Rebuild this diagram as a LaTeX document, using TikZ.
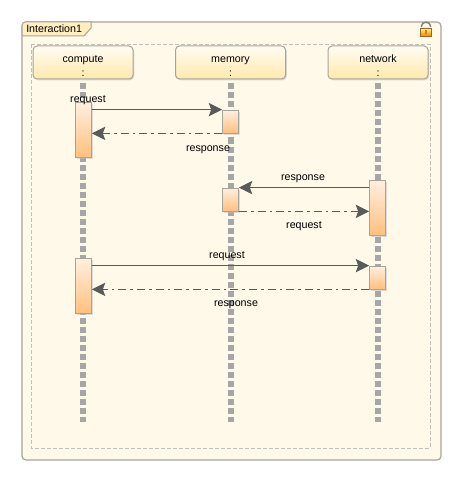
\documentclass[tikz,border=0pt]{standalone}
\usepackage{fontspec}
\setmainfont{Liberation Sans}
\usetikzlibrary{arrows.meta,shadows}
\definecolor{paneFill}{HTML}{FFF9EA}
\definecolor{paneLine}{HTML}{A8A498}
\definecolor{headTop}{HTML}{FFFCF2}
\definecolor{headBot}{HTML}{FFE9AC}
\definecolor{barTop}{HTML}{FFEFE0}
\definecolor{barBot}{HTML}{FFC07E}
\definecolor{lifeGray}{HTML}{A6A6A6}
\definecolor{msgGray}{HTML}{5A5A5A}
\tikzset{
	headbox/.style={draw=paneLine,line width=.75pt,rounded corners=3pt,minimum height=24.75pt,inner sep=0pt,top color=headTop,bottom color=headBot,align=center,drop shadow={shadow xshift=1pt,shadow yshift=-1pt,fill=black!25,opacity=.5}},
	barbox/.style={draw=paneLine,line width=.6pt,minimum width=12pt,inner sep=0pt,top color=barTop,bottom color=barBot,drop shadow={shadow xshift=1.2pt,shadow yshift=-1.2pt,fill=black!25,opacity=.5}},
	lifeline/.style={draw=lifeGray,line width=4.5pt,dash pattern=on 4.5pt off 2.25pt,shorten <=3pt},
	callmsg/.style={draw=msgGray,line width=.8pt,-{Stealth[length=10pt,width=10pt,inset=1.8pt]}},
	backmsg/.style={callmsg,dash pattern=on 6pt off 3pt on 2pt off 3pt},
	msglabel/.style={inner sep=0pt}
}
\begin{document}
\begin{tikzpicture}[x=.75pt,y=-.75pt,font=\fontsize{8}{10}\selectfont]
	\useasboundingbox (0,0) rectangle (462,481);
	\fill[white] (0,0) rectangle (462,481);
	% frame
	\draw[paneLine,fill=paneFill,line width=.9pt,rounded corners=3pt] (22,22) rectangle (441,460);
	\draw[paneLine,fill=headBot!70!paneFill,line width=.75pt] (84,36) -- (22,36) [rounded corners=2.5pt] -- (22,22) [sharp corners] -- (91,22) -- (91,28) -- cycle;
	\draw[paneLine!70,line width=.6pt,dash pattern=on 3pt off 1.5pt] (31,44) rectangle (430,448);
	\node[inner sep=0pt,anchor=west] (frameName) at (26,28.5) {Interaction1};
	% lock
	\draw[gray,line width=1.1pt] (421.5,28) -- (421.5,26) .. controls (421.5,21) and (430.5,21) .. (430.5,26) -- (430.5,28);
	\draw[brown!80!black,line width=.6pt,top color=yellow!60!white,bottom color=orange] (420.5,28) rectangle (431.5,36);
	\fill[brown] (425.2,30) rectangle (426.8,34);
	% lifelines
	\foreach \n/\x/\w/\a/\g in {compute/83/75/83/compute,memory/230.5/82.5/230.5/memory,network/378/75/378/network}{
		\node[headbox,minimum width=\w pt] (\n) at (\x,62.5) {\rule{0pt}{10.75pt}\g\\[.25pt]:};
		\coordinate (\n End) at (\a,422);
		\draw[lifeline] (\n.south) -- (\n End);
	}
	% bars
	\foreach \n/\x/\t/\b in {comA/83.5/102/157,memA/230.5/110/133,netA/377.5/180/235,memB/230.5/188/211,comB/83.5/258/313,netB/377.5/266/289}
		\node[barbox,minimum height={(\b-\t)*.75pt}] (\n) at (\x,{(\t+\b)/2}) {};
	% messages
	\draw[callmsg] (memA.north west -| comA.east) -- (memA.north west);
	\draw[backmsg] (memA.south west) -- (memA.south west -| comA.east);
	\draw[callmsg] (memB.north east -| netA.west) -- (memB.north east);
	\draw[backmsg] (memB.south east) -- (memB.south east -| netA.west);
	\draw[callmsg] (netB.north west -| comB.east) -- (netB.north west);
	\draw[backmsg] (netB.south west) -- (netB.south west -| comB.east);
	% labels
	\foreach \n/\x/\y/\g in {labA/88/100/request,labB/208/150/response,labC/303/179/response,labD/304/226/request,labE/227/256/request,labF/236/305/response}
		\node[msglabel] (\n) at (\x,\y) {\g};
\end{tikzpicture}
\end{document}
